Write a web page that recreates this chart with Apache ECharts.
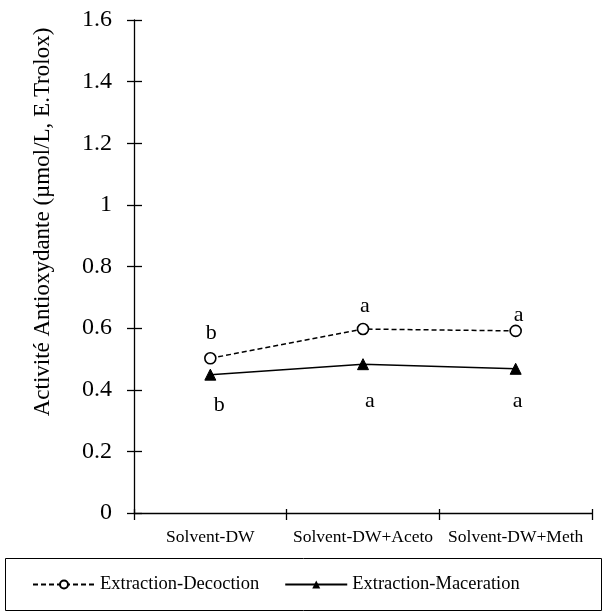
<!DOCTYPE html>
<html>
<head>
<meta charset="utf-8">
<script src="https://cdn.jsdelivr.net/npm/echarts@6/dist/echarts.min.js"></script>
<style>
html,body{margin:0;padding:0;background:#fff;}
#chart{width:606px;height:611px;}
</style>
</head>
<body>
<div id="chart"></div>
<script>
// Categories and measured antioxidant activity (µmol/L, E.Trolox)
var categories = ['Solvent-DW', 'Solvent-DW+Aceto', 'Solvent-DW+Meth'];
var decoction = [0.502, 0.597, 0.591];
var maceration = [0.449, 0.483, 0.468];
var decoctionLetters = ['b', 'a', 'a'];
var macerationLetters = ['b', 'a', 'a'];
var yTicks = { min: 0, max: 1.6, interval: 0.2 };

// Per-point placement of the significance letters: [distance, dx]
var decoLabelPlace = [[8, 1], [6, 2], [-2, 3]];
var maceLabelPlace = [[14, 9], [20, 7], [15, 2]];

var FONT = '"Liberation Serif", "Times New Roman", serif';
var chart = echarts.init(document.getElementById('chart'));

var axisLine = { show: true, lineStyle: { color: '#000', width: 1.3 } };

function withLetters(values, letters, place) {
  return values.map(function (v, i) {
    return {
      value: v,
      label: { distance: place[i][0], offset: [place[i][1], 0], formatter: letters[i] }
    };
  });
}

chart.setOption({
  animation: false,
  backgroundColor: '#fff',
  grid: { left: 134, right: 14, top: 20, bottom: 98, containLabel: false },
  legend: {
    top: 570,
    left: 27,
    itemWidth: 62,
    itemHeight: 10,
    itemGap: 25,
    textStyle: { fontFamily: FONT, fontSize: 18.5, color: '#000' },
    data: ['Extraction-Decoction', 'Extraction-Maceration']
  },
  graphic: [{
    type: 'rect',
    shape: { x: 5.5, y: 558.5, width: 596, height: 52 },
    style: { fill: 'none', stroke: '#000', lineWidth: 1 }
  }, {
    type: 'text',
    x: 43,
    y: 222,
    rotation: Math.PI / 2,
    style: {
      text: 'Activité Antioxydante (µmol/L, E.Trolox)',
      fontFamily: FONT,
      fontSize: 23,
      fill: '#000',
      align: 'center',
      verticalAlign: 'middle'
    }
  }],
  xAxis: [{
    type: 'category',
    data: categories,
    boundaryGap: true,
    axisLine: axisLine,
    axisTick: { show: true, alignWithLabel: false, length: 7, lineStyle: { color: '#000', width: 1.3 } },
    axisLabel: { fontFamily: FONT, fontSize: 17.5, color: '#000', margin: 15, interval: 0 },
    splitLine: { show: false }
  }, {
    type: 'category',
    data: categories,
    position: 'bottom',
    boundaryGap: true,
    axisLine: { show: false },
    axisTick: { show: true, inside: true, length: 4, lineStyle: { color: '#000', width: 1.3 } },
    axisLabel: { show: false },
    splitLine: { show: false }
  }],
  yAxis: [{
    type: 'value',
    min: yTicks.min,
    max: yTicks.max,
    interval: yTicks.interval,
    axisLine: axisLine,
    axisTick: { show: true, length: 7, lineStyle: { color: '#000', width: 1.3 } },
    axisLabel: { fontFamily: FONT, fontSize: 24, color: '#000', margin: 22 },
    splitLine: { show: false }
  }, {
    type: 'value',
    position: 'left',
    min: yTicks.min,
    max: yTicks.max,
    interval: yTicks.interval,
    axisLine: { show: false },
    axisTick: { show: true, inside: true, length: 8, lineStyle: { color: '#000', width: 1.3 } },
    axisLabel: { show: false },
    splitLine: { show: false }
  }],
  series: [{
    name: 'Extraction-Decoction',
    type: 'line',
    data: withLetters(decoction, decoctionLetters, decoLabelPlace),
    symbol: 'circle',
    symbolSize: 11,
    showAllSymbol: true,
    lineStyle: { color: '#000', width: 1.5, type: [5, 3] },
    itemStyle: { color: '#fff', borderColor: '#000', borderWidth: 1.6 },
    label: {
      show: true,
      position: 'top',
      fontFamily: FONT,
      fontSize: 22,
      color: '#000'
    },
    emphasis: { disabled: true }
  }, {
    name: 'Extraction-Maceration',
    type: 'line',
    data: withLetters(maceration, macerationLetters, maceLabelPlace),
    symbol: 'triangle',
    symbolSize: 11,
    lineStyle: { color: '#000', width: 1.5 },
    itemStyle: { color: '#000', borderColor: '#000' },
    label: {
      show: true,
      position: 'bottom',
      fontFamily: FONT,
      fontSize: 22,
      color: '#000'
    },
    emphasis: { disabled: true }
  }]
});
</script>
</body>
</html>
